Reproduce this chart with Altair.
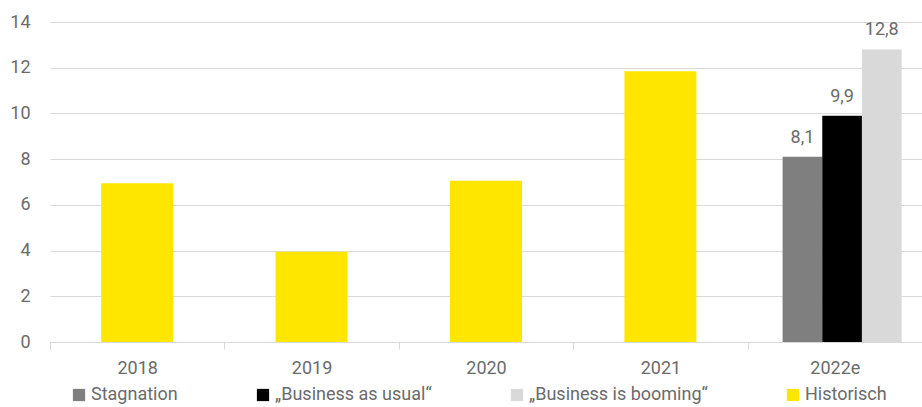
import altair as alt
import pandas as pd

years = ["2018", "2019", "2020", "2021", "2022e"]
hist_years = ["2018", "2019", "2020", "2021"]
hist_values = [6.95, 3.95, 7.05, 11.85]
scen_names = ["Stagnation", "\u201eBusiness as usual\u201c", "\u201eBusiness is booming\u201c"]
scen_values = [8.1, 9.9, 12.8]
series_order = scen_names + ["Historisch"]
colors = ["#7F7F7F", "#000000", "#D9D9D9", "#FFE600"]

hist = pd.DataFrame({"year": hist_years, "value": hist_values, "series": "Historisch"})
scen = pd.DataFrame({
    "year": "2022e",
    "value": scen_values,
    "series": scen_names,
    "label": [f"{v:.1f}".replace(".", ",") for v in scen_values],
})

FONT = "Roboto"
TXT = "#6b6b6b"
FS = 18

x = alt.X("year:N", sort=years,
          scale=alt.Scale(domain=years, paddingInner=0, paddingOuter=0),
          axis=alt.Axis(title=None, labelAngle=0, tickBand="extent", domainColor="#d9d9d9",
                        tickColor="#d9d9d9", tickSize=7, labelPadding=10, labelFontSize=FS,
                        labelColor=TXT, labelFont=FONT, grid=False))
y = alt.Y("value:Q", scale=alt.Scale(domain=[0, 14], nice=False),
          axis=alt.Axis(title=None, values=list(range(0, 15, 2)), domain=False, ticks=False,
                        gridColor="#d9d9d9", labelPadding=20, labelFontSize=FS,
                        labelColor=TXT, labelFont=FONT))
color = alt.Color("series:N", sort=series_order,
                  scale=alt.Scale(domain=series_order, range=colors),
                  legend=alt.Legend(title=None, orient="none", direction="horizontal",
                                    columns=4, legendX=20, legendY=364,
                                    symbolType="square", symbolSize=150, symbolStrokeWidth=0,
                                    labelFontSize=FS, labelFont=FONT, labelColor=TXT,
                                    columnPadding=76, labelOffset=3, labelLimit=300))

offset = alt.XOffset("series:N", sort=scen_names,
                     scale=alt.Scale(domain=scen_names, range=[35, 154], paddingInner=0, paddingOuter=0))

hist_bars = alt.Chart(hist).mark_bar(size=72).encode(x=x, y=y, color=color)
scen_bars = alt.Chart(scen).mark_bar().encode(x=x, y=y, color=color, xOffset=offset)
scen_text = alt.Chart(scen).mark_text(baseline="bottom", dy=-10, fontSize=FS, font=FONT, color=TXT).encode(
    x=x, y=y, xOffset=offset, text="label:N")

chart = alt.layer(hist_bars, scen_bars, scen_text).properties(
    width=872, height=320,
    autosize=alt.AutoSizeParams(type="none"),
    padding={"left": 50, "top": 22, "right": 0, "bottom": 65},
    background="white",
).configure_view(stroke=None)

chart.save("out.html", embed_options={"renderer": "svg", "actions": False})
